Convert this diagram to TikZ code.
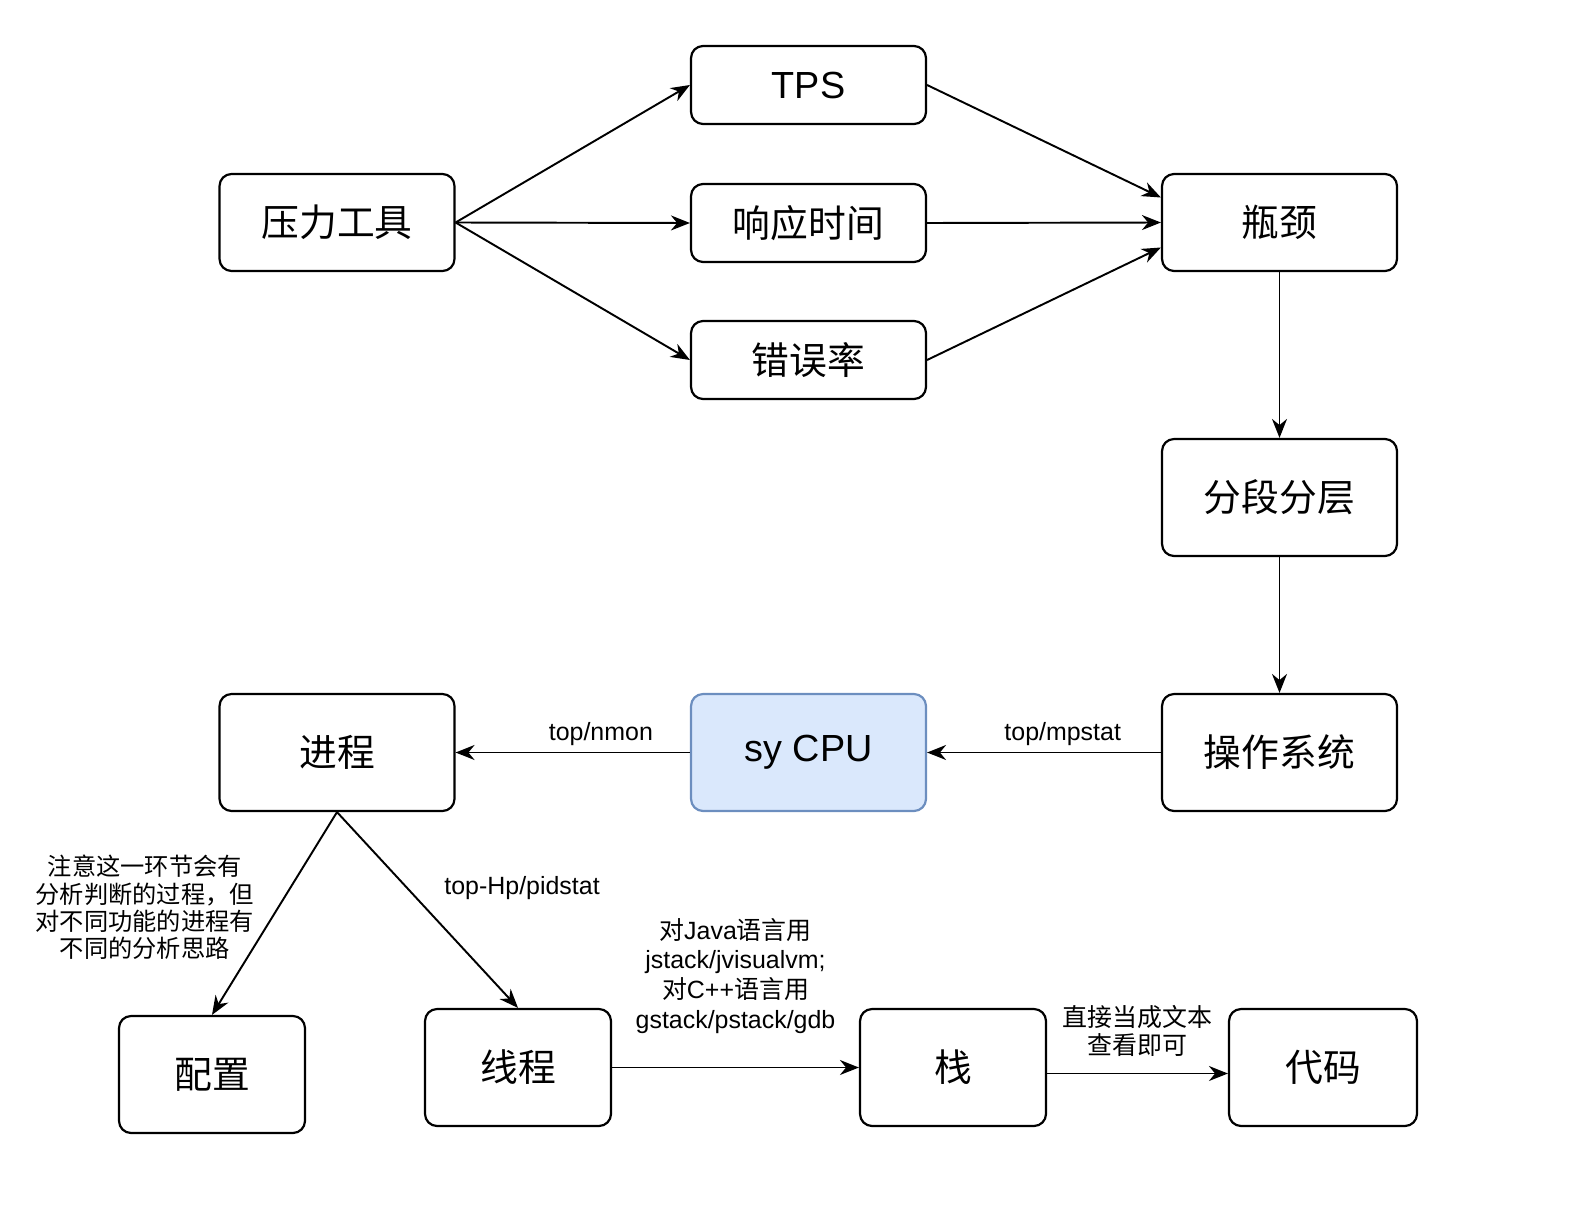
\documentclass[tikz,border=0pt]{standalone}
\usepackage{fontspec}
\setmainfont{Liberation Sans}
\newfontfamily\cjk{Noto Sans CJK SC}
\usepackage{tikz}
\usetikzlibrary{positioning,arrows.meta}

\definecolor{cpufill}{HTML}{DAE8FC}
\definecolor{cpuline}{HTML}{6C8EBF}

\tikzset{
    box/.style={draw,
        rounded corners=0.24cm,
        line width=1.25pt,
        minimum width=4.7cm,
        align=center,
        font=\cjk\fontsize{21.5}{26}\selectfont},
    boxlatin/.style={box,
        font=\rmfamily\fontsize{21.5}{26}\selectfont},
    flow/.style={-{Stealth[length=3.8mm,width=3mm]}, line width=1.1pt},
    lbl/.style={font=\fontsize{14.2}{16.8}\selectfont, align=center}
}

\begin{document}
\begin{tikzpicture}[x=0.02cm, y=-0.02cm]

    \useasboundingbox (0,0) rectangle (1596,1230);

    % Load test
    \node[box, minimum height=1.94cm] (tool) at (337,222.5){压力工具};

    \node[boxlatin, minimum height=1.56cm] (tps) at (808.5,85){TPS};

    \node[box, minimum height=1.56cm] (resp) at (808.5,223){响应时间};

    \node[box, minimum height=1.56cm] (err) at (808.5,360){错误率};

    \node[box, minimum height=1.94cm] (neck) at (1279.5,222.5){瓶颈};

    % Layers
    \node[box, minimum height=2.34cm] (layer) at (1279.5,497.5){分段分层};

    \node[box, minimum height=2.34cm] (os) at (1279.5,752.5){操作系统};

    \node[boxlatin,
        minimum height=2.34cm,
        fill=cpufill,
        draw=cpuline
    ] (cpu) at (808.5,752.5){sy CPU};

    \node[box, minimum height=2.34cm] (proc) at (337,752.5){进程};

    % Bottom row
    \node[box,
        minimum width=3.72cm,
        minimum height=2.34cm
    ] (conf) at (212,1074.5){配置};

    \node[box,
        minimum width=3.72cm,
        minimum height=2.34cm
    ] (thread) at (518,1067.5){线程};

    \node[box,
        minimum width=3.72cm,
        minimum height=2.34cm
    ] (stack) at (953,1067.5){栈};

    \node[box,
        minimum width=3.76cm,
        minimum height=2.34cm
    ] (code) at (1323,1067.5){代码};

    % Arrows
    \draw[flow] (tool.east) -- (tps.west);
    \draw[flow] (tool.east) -- (resp.west);
    \draw[flow] (tool.east) -- (err.west);

    \draw[flow] (tps.east) -- ([yshift=0.5cm]neck.west);
    \draw[flow] (resp.east) -- (neck.west);
    \draw[flow] (err.east) -- ([yshift=-0.5cm]neck.west);

    \draw[flow] (neck.south) -- (layer.north);
    \draw[flow] (layer.south) -- (os.north);

    \draw[flow] (os.west) -- (cpu.east)
    node[lbl, pos=0.42, above]{top/mpstat};

    \draw[flow] (cpu.west) -- (proc.east)
    node[lbl, pos=0.38, above]{top/nmon};

    \draw[flow] (proc.south) -- (conf.north)
    node[lbl, pos=0.47, left=0.35cm, font=\cjk\fontsize{13.8}{15.5}\selectfont]
    {注意这一环节会有\\分析判断的过程，但\\对不同功能的进程有\\不同的分析思路};

    \draw[flow] (proc.south) -- (thread.north)
    node[lbl, pos=0.39, right=0.6cm]{top-Hp/pidstat};

    \draw[flow] (thread.east) -- (stack.west)
    node[lbl, midway, above=0.55cm]
    {{\cjk 对}Java{\cjk 语言用}\\jstack/jvisualvm;\\{\cjk 对}C++{\cjk 语言用}\\gstack/pstack/gdb};

    \draw[flow] ([yshift=-0.12cm]stack.east) -- ([yshift=-0.12cm]code.west)
    node[lbl, midway, above=0.2cm, font=\cjk\fontsize{14.2}{16}\selectfont]
    {直接当成文本\\查看即可};

\end{tikzpicture}
\end{document}
